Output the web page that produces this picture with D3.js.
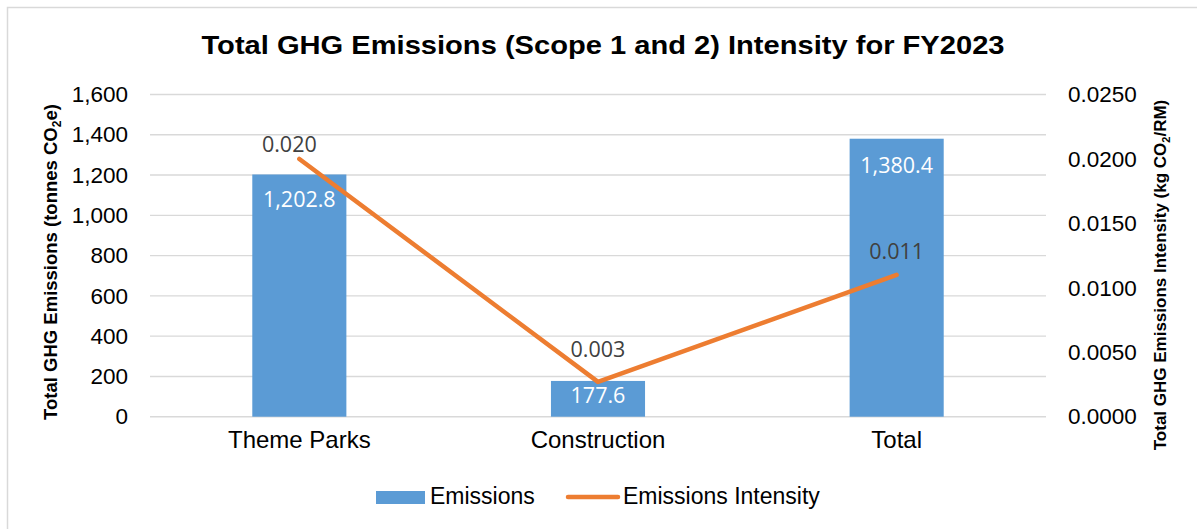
<!DOCTYPE html>
<html>
<head>
<meta charset="utf-8">
<script src="https://cdn.jsdelivr.net/npm/d3@7"></script>
<style>
  html, body { margin: 0; padding: 0; background: #fff; }
  svg { display: block; }
  text { font-family: "Liberation Sans", Arial, sans-serif; }
  .dlabel { font-family: "Open Sans", "Lato", sans-serif; }
</style>
</head>
<body>
<svg id="chart" width="1197" height="529"></svg>
<script>
// Chart data
const categories = ["Theme Parks", "Construction", "Total"];
const emissions = [1202.8, 177.6, 1380.4];          // tonnes CO2e
const intensity = [0.020, 0.0027, 0.011];           // kg CO2/RM
const intensityLabels = ["0.020", "0.003", "0.011"];
const leftTicks = [0, 200, 400, 600, 800, 1000, 1200, 1400, 1600];
const rightTicks = [0, 0.005, 0.010, 0.015, 0.020, 0.025];

const W = 1197, H = 529;
const plot = { left: 150, right: 1046, top: 94.5, bottom: 416.7 };

const svg = d3.select("#chart");

// light frame around the chart area
svg.append("rect")
  .attr("x", 7.5).attr("y", 7.5)
  .attr("width", W + 20).attr("height", H + 20)
  .attr("fill", "#fff").attr("stroke", "#d9d9d9").attr("stroke-width", 1.5);

const x = d3.scaleBand()
  .domain(categories)
  .range([plot.left, plot.right])
  .paddingInner(0.685)
  .paddingOuter(0.3425);

const yL = d3.scaleLinear().domain([0, 1600]).range([plot.bottom, plot.top]);
const yR = d3.scaleLinear().domain([0, 0.025]).range([plot.bottom, plot.top]);

const cx = c => x(c) + x.bandwidth() / 2;

// horizontal gridlines
svg.append("g")
  .selectAll("line")
  .data(leftTicks)
  .join("line")
  .attr("x1", plot.left).attr("x2", plot.right)
  .attr("y1", d => yL(d)).attr("y2", d => yL(d))
  .attr("stroke", "#d9d9d9").attr("stroke-width", 1.4);

// left axis
const axL = d3.axisLeft(yL).tickValues(leftTicks).tickFormat(d3.format(",")).tickSize(0).tickPadding(22);
const gL = svg.append("g").attr("transform", `translate(${plot.left},0)`).call(axL);
gL.select(".domain").remove();
gL.selectAll("text").attr("font-size", 22.5).attr("fill", "#000")
  .attr("font-family", "Liberation Sans, Arial, sans-serif");

// right axis
const axR = d3.axisRight(yR).tickValues(rightTicks).tickFormat(d3.format(".4f")).tickSize(0).tickPadding(22);
const gR = svg.append("g").attr("transform", `translate(${plot.right},0)`).call(axR);
gR.select(".domain").remove();
gR.selectAll("text").attr("font-size", 22.5).attr("fill", "#000")
  .attr("font-family", "Liberation Sans, Arial, sans-serif");

// category axis
const axB = d3.axisBottom(x).tickSize(0).tickPadding(14);
const gB = svg.append("g").attr("transform", `translate(0,${plot.bottom})`).call(axB);
gB.select(".domain").remove();
gB.selectAll("text").attr("font-size", 24).attr("fill", "#000")
  .attr("font-family", "Liberation Sans, Arial, sans-serif");

// bars
svg.append("g")
  .selectAll("rect")
  .data(categories)
  .join("rect")
  .attr("x", d => x(d))
  .attr("width", x.bandwidth())
  .attr("y", (d, i) => yL(emissions[i]))
  .attr("height", (d, i) => yL(0) - yL(emissions[i]))
  .attr("fill", "#5b9bd5");

// bar value labels (inside end)
const barLabelDrop = [33, 22, 34.5];
svg.append("g")
  .selectAll("text")
  .data(categories)
  .join("text")
  .attr("class", "dlabel")
  .attr("x", d => cx(d))
  .attr("y", (d, i) => yL(emissions[i]) + barLabelDrop[i])
  .attr("text-anchor", "middle")
  .attr("font-size", 21.5)
  .attr("fill", "#fff")
  .text((d, i) => d3.format(",.1f")(emissions[i]));

// intensity line
const line = d3.line()
  .x((d, i) => cx(categories[i]))
  .y(d => yR(d));
svg.append("path")
  .datum(intensity)
  .attr("d", line)
  .attr("fill", "none")
  .attr("stroke", "#ed7d31")
  .attr("stroke-width", 4.5)
  .attr("stroke-linecap", "round")
  .attr("stroke-linejoin", "round");

// intensity labels above points
const lineLabelRise = [7, 25, 16];
const lineLabelShift = [-10, 0, 0];
svg.append("g")
  .selectAll("text")
  .data(intensity)
  .join("text")
  .attr("class", "dlabel")
  .attr("x", (d, i) => cx(categories[i]) + lineLabelShift[i])
  .attr("y", (d, i) => yR(d) - lineLabelRise[i])
  .attr("text-anchor", "middle")
  .attr("font-size", 21.5)
  .attr("fill", "#404040")
  .text((d, i) => intensityLabels[i]);

// title
svg.append("text")
  .attr("x", 603).attr("y", 53.5)
  .attr("text-anchor", "middle")
  .attr("font-size", 26)
  .attr("font-weight", "bold")
  .attr("textLength", 803)
  .attr("lengthAdjust", "spacingAndGlyphs")
  .text("Total GHG Emissions (Scope 1 and 2) Intensity for FY2023");

// axis titles
const tL = svg.append("text")
  .attr("transform", `translate(57,${262}) rotate(-90)`)
  .attr("text-anchor", "middle")
  .attr("font-size", 18.5)
  .attr("font-weight", "bold");
tL.append("tspan").text("Total GHG Emissions (tonnes CO");
tL.append("tspan").attr("font-size", 12).attr("dy", 4).text("2");
tL.append("tspan").attr("dy", -4).text("e)");

const tR = svg.append("text")
  .attr("transform", `translate(1166,${275}) rotate(-90)`)
  .attr("text-anchor", "middle")
  .attr("font-size", 17)
  .attr("font-weight", "bold");
tR.append("tspan").text("Total GHG Emissions Intensity (kg CO");
tR.append("tspan").attr("font-size", 11).attr("dy", 4).text("2");
tR.append("tspan").attr("dy", -4).text("/RM)");

// legend
const lg = svg.append("g");
lg.append("rect").attr("x", 376).attr("y", 491).attr("width", 49).attr("height", 13).attr("fill", "#5b9bd5");
lg.append("text").attr("x", 430).attr("y", 504).attr("font-size", 23).text("Emissions");
lg.append("line").attr("x1", 568).attr("x2", 618).attr("y1", 497).attr("y2", 497)
  .attr("stroke", "#ed7d31").attr("stroke-width", 4.5).attr("stroke-linecap", "round");
lg.append("text").attr("x", 623).attr("y", 504).attr("font-size", 23).text("Emissions Intensity");
</script>
</body>
</html>
